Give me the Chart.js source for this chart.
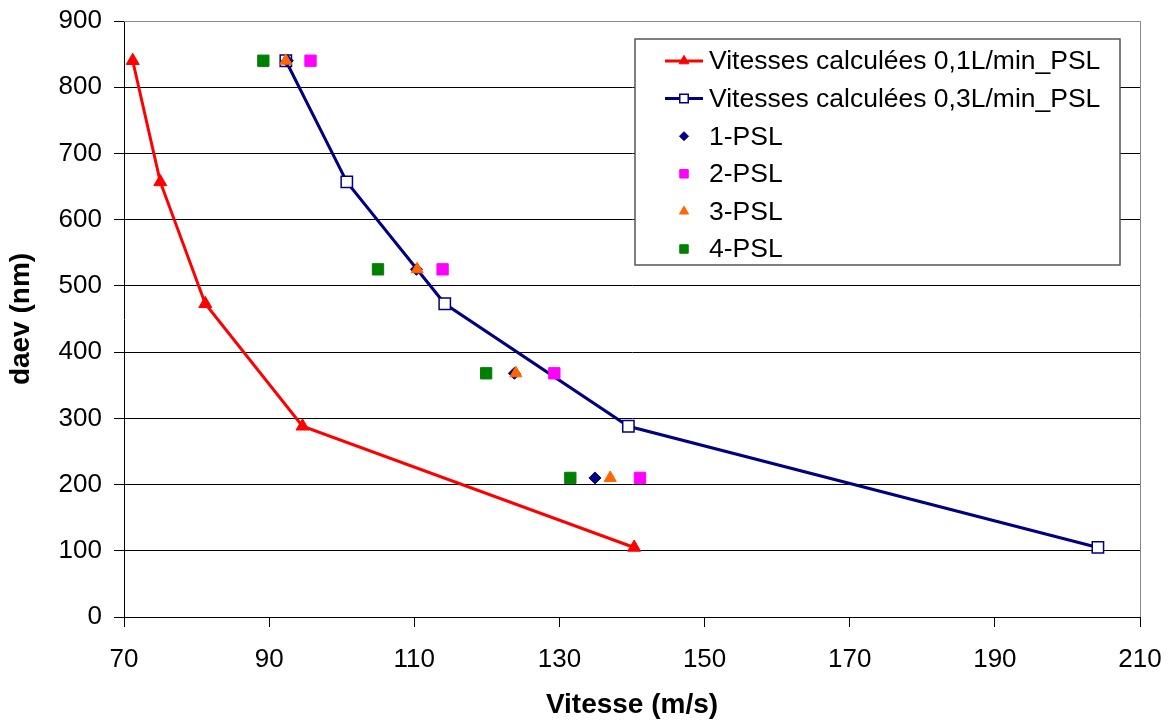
<!DOCTYPE html>
<html>
<head>
<meta charset="utf-8">
<script src="https://cdn.jsdelivr.net/npm/chart.js@4.4.0/dist/chart.umd.min.js"></script>
<style>
  html, body { margin: 0; padding: 0; background: #fff; }
  #graficoVitesse { display: block; }
</style>
</head>
<body>
<canvas id="graficoVitesse" width="1173" height="722"></canvas>
<script>
// valeurs
const daevCalc = [840, 657, 473, 288, 105];
const vitesse01 = [71.2, 75.0, 81.2, 94.6, 140.3];
const vitesse03 = [92.3, 100.7, 114.2, 139.5, 204.2];

const daevMesure = [840, 525, 368, 210];
const psl1 = [92.5, 110.3, 123.8, 134.9];
const psl2 = [95.7, 113.9, 129.3, 141.1];
const psl3 = [92.3, 110.4, 124.0, 137.0];
const psl4 = [89.2, 105.0, 119.9, 131.5];

const xTicks = [70, 90, 110, 130, 150, 170, 190, 210];
const yTicks = [0, 100, 200, 300, 400, 500, 600, 700, 800, 900];

const FONTE = "'Liberation Sans', Arial, sans-serif";

function pares(xs, ys) {
    return xs.map((x, i) => ({ x: x, y: ys[i] }));
}

function serieMesure(label, xs, cor, estilo, raio, ordem) {
    return {
        label: label, data: pares(xs, daevMesure), showLine: false,
        pointStyle: estilo, pointRadius: raio, pointHoverRadius: raio,
        backgroundColor: cor, borderColor: cor, pointBorderWidth: 1, order: ordem
    };
}

const datasets = [
    {
        label: 'Vitesses calculées 0,1L/min_PSL', data: pares(vitesse01, daevCalc),
        showLine: true, borderColor: '#FF0000', backgroundColor: '#FF0000', borderWidth: 3,
        pointStyle: 'triangle', pointRadius: 7.5, pointHoverRadius: 7.5, pointBorderWidth: 1, order: 6
    },
    {
        label: 'Vitesses calculées 0,3L/min_PSL', data: pares(vitesse03, daevCalc),
        showLine: true, borderColor: '#000080', backgroundColor: '#FFFFFF', borderWidth: 3,
        pointStyle: 'rect', pointRadius: 8, pointHoverRadius: 8, pointBorderWidth: 1.5, order: 5
    },
    serieMesure('1-PSL', psl1, '#000080', 'rectRot', 6, 4),
    serieMesure('2-PSL', psl2, '#FF00FF', 'rect', 8, 3),
    serieMesure('3-PSL', psl3, '#FF6600', 'triangle', 7, 2),
    serieMesure('4-PSL', psl4, '#008000', 'rect', 8, 1)
];

// bordure grise du haut et de droite, comme dans Excel
const bordurePlot = {
    id: 'bordurePlot',
    afterDatasetsDraw(chart) {
        const { ctx, chartArea: a } = chart;
        ctx.save();
        ctx.strokeStyle = '#888';
        ctx.lineWidth = 1;
        ctx.beginPath();
        ctx.moveTo(a.left, a.top + 0.5);
        ctx.lineTo(a.right + 0.5, a.top + 0.5);
        ctx.lineTo(a.right + 0.5, a.bottom);
        ctx.stroke();
        ctx.restore();
    }
};

function desenharMarcador(ctx, ds, x, y, fator) {
    const r = ds.pointRadius * fator;
    ctx.save();
    ctx.fillStyle = ds.backgroundColor;
    ctx.strokeStyle = ds.borderColor;
    ctx.lineWidth = ds.pointBorderWidth;
    ctx.beginPath();
    if (ds.pointStyle === 'triangle') {
        ctx.moveTo(x, y - r);
        ctx.lineTo(x + r * 0.866, y + r * 0.5);
        ctx.lineTo(x - r * 0.866, y + r * 0.5);
        ctx.closePath();
    } else if (ds.pointStyle === 'rectRot') {
        ctx.moveTo(x, y - r);
        ctx.lineTo(x + r, y);
        ctx.lineTo(x, y + r);
        ctx.lineTo(x - r, y);
        ctx.closePath();
    } else {
        const s = r * Math.SQRT1_2;
        ctx.rect(x - s, y - s, 2 * s, 2 * s);
    }
    ctx.fill();
    ctx.stroke();
    ctx.restore();
}

// légende dans la zone de tracé
const legendeInterna = {
    id: 'legendeInterna',
    afterDraw(chart) {
        const { ctx, chartArea: a } = chart;
        const dss = chart.data.datasets;
        const largura = 485, altura = 226, linha = 37.6;
        const x0 = a.right - 20 - largura;
        const y0 = a.top + 18;
        ctx.save();
        ctx.fillStyle = '#fff';
        ctx.fillRect(x0, y0, largura, altura);
        ctx.strokeStyle = '#555';
        ctx.lineWidth = 1.5;
        ctx.strokeRect(x0, y0, largura, altura);
        ctx.font = '26.5px ' + FONTE;
        ctx.textBaseline = 'middle';
        ctx.fillStyle = '#000';
        dss.forEach((ds, i) => {
            const cy = y0 + 22 + i * linha;
            const cx = x0 + 49;
            if (ds.showLine !== false) {
                ctx.strokeStyle = ds.borderColor;
                ctx.lineWidth = 3;
                ctx.beginPath();
                ctx.moveTo(x0 + 30, cy);
                ctx.lineTo(x0 + 68, cy);
                ctx.stroke();
            }
            desenharMarcador(ctx, ds, cx, cy, 0.75);
            ctx.fillStyle = '#000';
            ctx.fillText(ds.label, x0 + 74, cy + 1);
        });
        ctx.restore();
    }
};

new Chart(document.getElementById('graficoVitesse'), {
    type: 'scatter',
    data: { datasets: datasets },
    options: {
        responsive: false,
        animation: false,
        layout: { padding: { left: 0, right: 33, top: 21, bottom: 0 } },
        plugins: { legend: { display: false }, tooltip: { enabled: false } },
        elements: { line: { tension: 0 } },
        scales: {
            x: {
                type: 'linear', min: 70, max: 210,
                afterBuildTicks: (s) => { s.ticks = xTicks.map(v => ({ value: v })); },
                afterFit: (s) => { s.height = 105; s.paddingLeft = 0; s.paddingRight = 0; },
                ticks: { color: '#000', font: { family: FONTE, size: 26 }, padding: 17 },
                grid: { drawOnChartArea: false, drawTicks: true, tickLength: 10, color: '#000' },
                border: { color: '#000', width: 1 },
                title: {
                    display: true, text: 'Vitesse (m/s)', color: '#000',
                    font: { family: FONTE, size: 28, weight: 'bold' }, padding: { top: 4, bottom: 0 }
                }
            },
            y: {
                type: 'linear', min: 0, max: 900,
                afterBuildTicks: (s) => { s.ticks = yTicks.map(v => ({ value: v })); },
                afterFit: (s) => { s.width = 124; s.paddingTop = 0; s.paddingBottom = 0; },
                ticks: { color: '#000', font: { family: FONTE, size: 26 }, padding: 12 },
                grid: { color: '#000', lineWidth: 1, tickLength: 10 },
                border: { color: '#000', width: 1 },
                title: {
                    display: true, text: 'daev (nm)', color: '#000',
                    font: { family: FONTE, size: 28, weight: 'bold' }, padding: { top: 4, bottom: 0 }
                }
            }
        }
    },
    plugins: [bordurePlot, legendeInterna]
});
</script>
</body>
</html>
